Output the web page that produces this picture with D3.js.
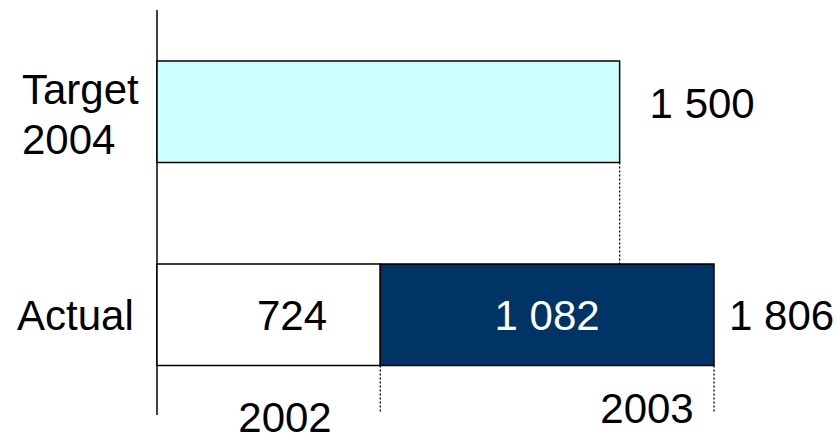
<!DOCTYPE html>
<html><head><meta charset="utf-8">
<script src="https://cdn.jsdelivr.net/npm/d3@7"></script>
<style>body{margin:0;background:#fff}svg{display:block}text{font-family:"Liberation Sans",Arial,sans-serif}</style>
</head><body><svg id="c" width="836" height="435"></svg>
<script>
const categories = ["Target 2004", "Actual"];
const targetValue = [1500];
const actualSegments = ["2002", "2003"];
const actualValues = [724, 1082];
const valueLabels = ["1 500", "724", "1 082", "1 806"];
const colors = {target: "#ccffff", y2002: "#ffffff", y2003: "#003366"};

const svg = d3.select("#c");
const total = d3.sum(actualValues);
const x = d3.scaleLinear().domain([0, total]).range([157, 714]);
const y = d3.scaleBand().domain(categories).range([-40.5, 467]).paddingInner(0.5).paddingOuter(0.5);
const bw = y.bandwidth();
const fs = 42;

// axis line
svg.append("line").attr("x1", x(0)).attr("x2", x(0)).attr("y1", 10).attr("y2", 415)
  .attr("stroke", "#000").attr("stroke-width", 1.5);

// target bar
const yt = y("Target 2004");
svg.append("rect").attr("x", x(0)).attr("y", yt).attr("width", x(targetValue[0]) - x(0)).attr("height", bw)
  .attr("fill", colors.target).attr("stroke", "#000").attr("stroke-width", 1.5);

// actual stacked
const ya = y("Actual");
let cum = 0;
const segs = actualValues.map((v, i) => { const s = {k: actualSegments[i], x0: cum, x1: cum + v}; cum += v; return s; });
svg.selectAll("rect.seg").data(segs).join("rect").attr("class", "seg")
  .attr("x", d => x(d.x0)).attr("y", ya).attr("width", d => x(d.x1) - x(d.x0)).attr("height", bw)
  .attr("fill", (d, i) => i === 0 ? colors.y2002 : colors.y2003)
  .attr("stroke", "#000").attr("stroke-width", 1.5);

// dotted connectors
const dot = (xx, y1, y2) => svg.append("line").attr("x1", xx).attr("x2", xx).attr("y1", y1).attr("y2", y2)
  .attr("stroke", "#000").attr("stroke-width", 1.3).attr("stroke-dasharray", "2,2");
dot(x(targetValue[0]), yt + bw, ya);
dot(x(segs[0].x1), ya + bw, 413);
dot(x(segs[1].x1), ya + bw, 413);

// category labels
svg.append("text").attr("x", 22).attr("y", 104).attr("font-size", fs).text("Target");
svg.append("text").attr("x", 22).attr("y", 154).attr("font-size", fs).text("2004");
svg.append("text").attr("x", 17).attr("y", ya + bw / 2 + 15).attr("font-size", fs).text("Actual");

// value labels
svg.append("text").attr("x", x(targetValue[0]) + 30).attr("y", yt + bw / 2 + 6).attr("font-size", fs).text(valueLabels[0]);
svg.append("text").attr("x", 292).attr("y", ya + bw / 2 + 15).attr("font-size", fs).attr("text-anchor", "middle").text(valueLabels[1]);
svg.append("text").attr("x", (x(segs[1].x0) + x(segs[1].x1)) / 2).attr("y", ya + bw / 2 + 15).attr("font-size", fs).attr("text-anchor", "middle").attr("fill", "#fff").text(valueLabels[2]);
svg.append("text").attr("x", x(total) + 15).attr("y", ya + bw / 2 + 15).attr("font-size", fs).text(valueLabels[3]);

// year labels
svg.append("text").attr("x", 285).attr("y", 432).attr("font-size", fs).attr("text-anchor", "middle").text(actualSegments[0]);
svg.append("text").attr("x", 647).attr("y", 423).attr("font-size", fs).attr("text-anchor", "middle").text(actualSegments[1]);
</script></body></html>
